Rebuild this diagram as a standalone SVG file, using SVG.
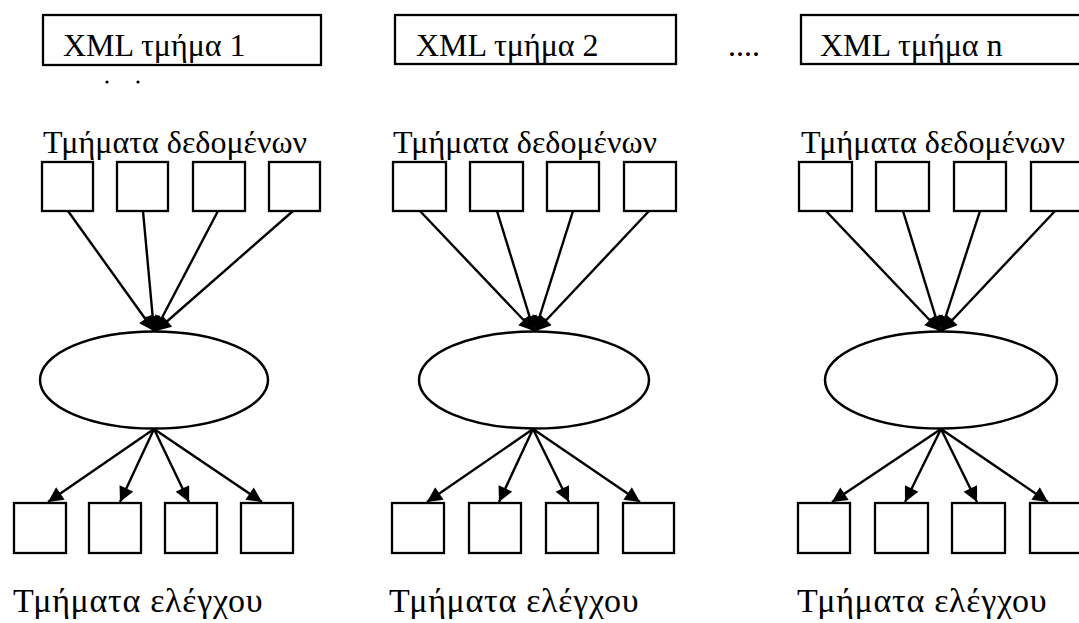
<svg xmlns="http://www.w3.org/2000/svg" width="1079" height="623" viewBox="0 0 1079 623">
<style>
.box{fill:#fff;stroke:#000;stroke-width:2.3}
.ell{fill:#fff;stroke:#000;stroke-width:2.5}
.t{font-family:"Liberation Serif","Times New Roman",serif;font-size:32px;fill:#000}
.h{font-size:32px}
.b{font-size:34px;letter-spacing:0.7px}
.c line{stroke:#000;stroke-width:2.4}
</style>
<defs>
<marker id="ah" viewBox="0 0 10 10" refX="10" refY="5" markerWidth="17" markerHeight="15" markerUnits="userSpaceOnUse" orient="auto">
<path d="M0,0 L10,5 L0,10 z" fill="#000"/>
</marker>
</defs>
<rect width="1079" height="623" fill="#fff"/>

<g id="xml1"><rect class="box" x="43" y="15" width="278" height="50"/><text class="t" x="63" y="56">XML τμήμα 1</text></g>
<g id="xml2"><rect class="box" x="395" y="15" width="281" height="49"/><text class="t" x="416" y="56">XML τμήμα 2</text></g>
<text class="t" x="728" y="56">....</text>
<g id="xmln"><rect class="box" x="801" y="15" width="290" height="49"/><text class="t" x="820" y="56">XML τμήμα n</text></g>

<g id="dots"><circle cx="107" cy="82" r="1.6"/><circle cx="138" cy="82" r="1.6"/></g>

<text class="t h" x="43" y="153">Τμήματα δεδομένων</text>
<text class="t h" x="393" y="153">Τμήματα δεδομένων</text>
<text class="t h" x="801" y="153">Τμήματα δεδομένων</text>

<g id="d1"><rect class="box" x="42" y="162" width="51" height="49"/><rect class="box" x="117" y="162" width="51" height="49"/><rect class="box" x="193" y="162" width="52" height="49"/><rect class="box" x="269" y="162" width="51" height="49"/></g>
<g id="d2"><rect class="box" x="393" y="162" width="53" height="49"/><rect class="box" x="470" y="162" width="53" height="49"/><rect class="box" x="547" y="162" width="52" height="49"/><rect class="box" x="624" y="162" width="52" height="49"/></g>
<g id="d3"><rect class="box" x="799" y="162" width="53" height="49"/><rect class="box" x="876" y="162" width="53" height="49"/><rect class="box" x="954" y="162" width="52" height="49"/><rect class="box" x="1031" y="162" width="60" height="49"/></g>

<g id="p1"><ellipse class="ell" cx="154" cy="380" rx="114" ry="48.5"/></g>
<g id="p2"><ellipse class="ell" cx="534" cy="380" rx="115" ry="48.5"/></g>
<g id="p3"><ellipse class="ell" cx="941" cy="380" rx="116" ry="48.5"/></g>

<g id="c1"><rect class="box" x="14" y="503" width="52" height="50"/><rect class="box" x="89" y="503" width="52" height="50"/><rect class="box" x="165" y="503" width="52" height="50"/><rect class="box" x="241" y="503" width="52" height="50"/></g>
<g id="c2"><rect class="box" x="392" y="503" width="52" height="50"/><rect class="box" x="469" y="503" width="52" height="50"/><rect class="box" x="546" y="503" width="52" height="50"/><rect class="box" x="623" y="503" width="51" height="50"/></g>
<g id="c3"><rect class="box" x="798" y="503" width="52" height="50"/><rect class="box" x="875" y="503" width="53" height="50"/><rect class="box" x="952" y="503" width="53" height="50"/><rect class="box" x="1030" y="503" width="60" height="50"/></g>

<text class="t b" x="13" y="612">Τμήματα ελέγχου</text>
<text class="t b" x="389" y="612">Τμήματα ελέγχου</text>
<text class="t b" x="797" y="612">Τμήματα ελέγχου</text>

<g class="c" id="connectors">
<line x1="68" y1="211" x2="154" y2="331" marker-end="url(#ah)"/>
<line x1="143" y1="211" x2="154" y2="331" marker-end="url(#ah)"/>
<line x1="218" y1="211" x2="155" y2="331" marker-end="url(#ah)"/>
<line x1="293" y1="211" x2="156" y2="331" marker-end="url(#ah)"/>
<line x1="420" y1="211" x2="534" y2="331" marker-end="url(#ah)"/>
<line x1="497" y1="211" x2="534" y2="331" marker-end="url(#ah)"/>
<line x1="573" y1="211" x2="535" y2="331" marker-end="url(#ah)"/>
<line x1="649" y1="211" x2="536" y2="331" marker-end="url(#ah)"/>
<line x1="826" y1="211" x2="940" y2="331" marker-end="url(#ah)"/>
<line x1="903" y1="211" x2="940" y2="331" marker-end="url(#ah)"/>
<line x1="980" y1="211" x2="941" y2="331" marker-end="url(#ah)"/>
<line x1="1055" y1="211" x2="942" y2="331" marker-end="url(#ah)"/>

<line x1="154" y1="429" x2="48" y2="502" marker-end="url(#ah)"/>
<line x1="154" y1="429" x2="120" y2="502" marker-end="url(#ah)"/>
<line x1="154" y1="429" x2="189" y2="502" marker-end="url(#ah)"/>
<line x1="154" y1="429" x2="262" y2="502" marker-end="url(#ah)"/>
<line x1="533" y1="429" x2="427" y2="502" marker-end="url(#ah)"/>
<line x1="533" y1="429" x2="499" y2="502" marker-end="url(#ah)"/>
<line x1="533" y1="429" x2="569" y2="502" marker-end="url(#ah)"/>
<line x1="533" y1="429" x2="640" y2="502" marker-end="url(#ah)"/>
<line x1="941" y1="429" x2="832" y2="502" marker-end="url(#ah)"/>
<line x1="941" y1="429" x2="905" y2="502" marker-end="url(#ah)"/>
<line x1="941" y1="429" x2="977" y2="502" marker-end="url(#ah)"/>
<line x1="941" y1="429" x2="1048" y2="502" marker-end="url(#ah)"/>
</g>
</svg>
